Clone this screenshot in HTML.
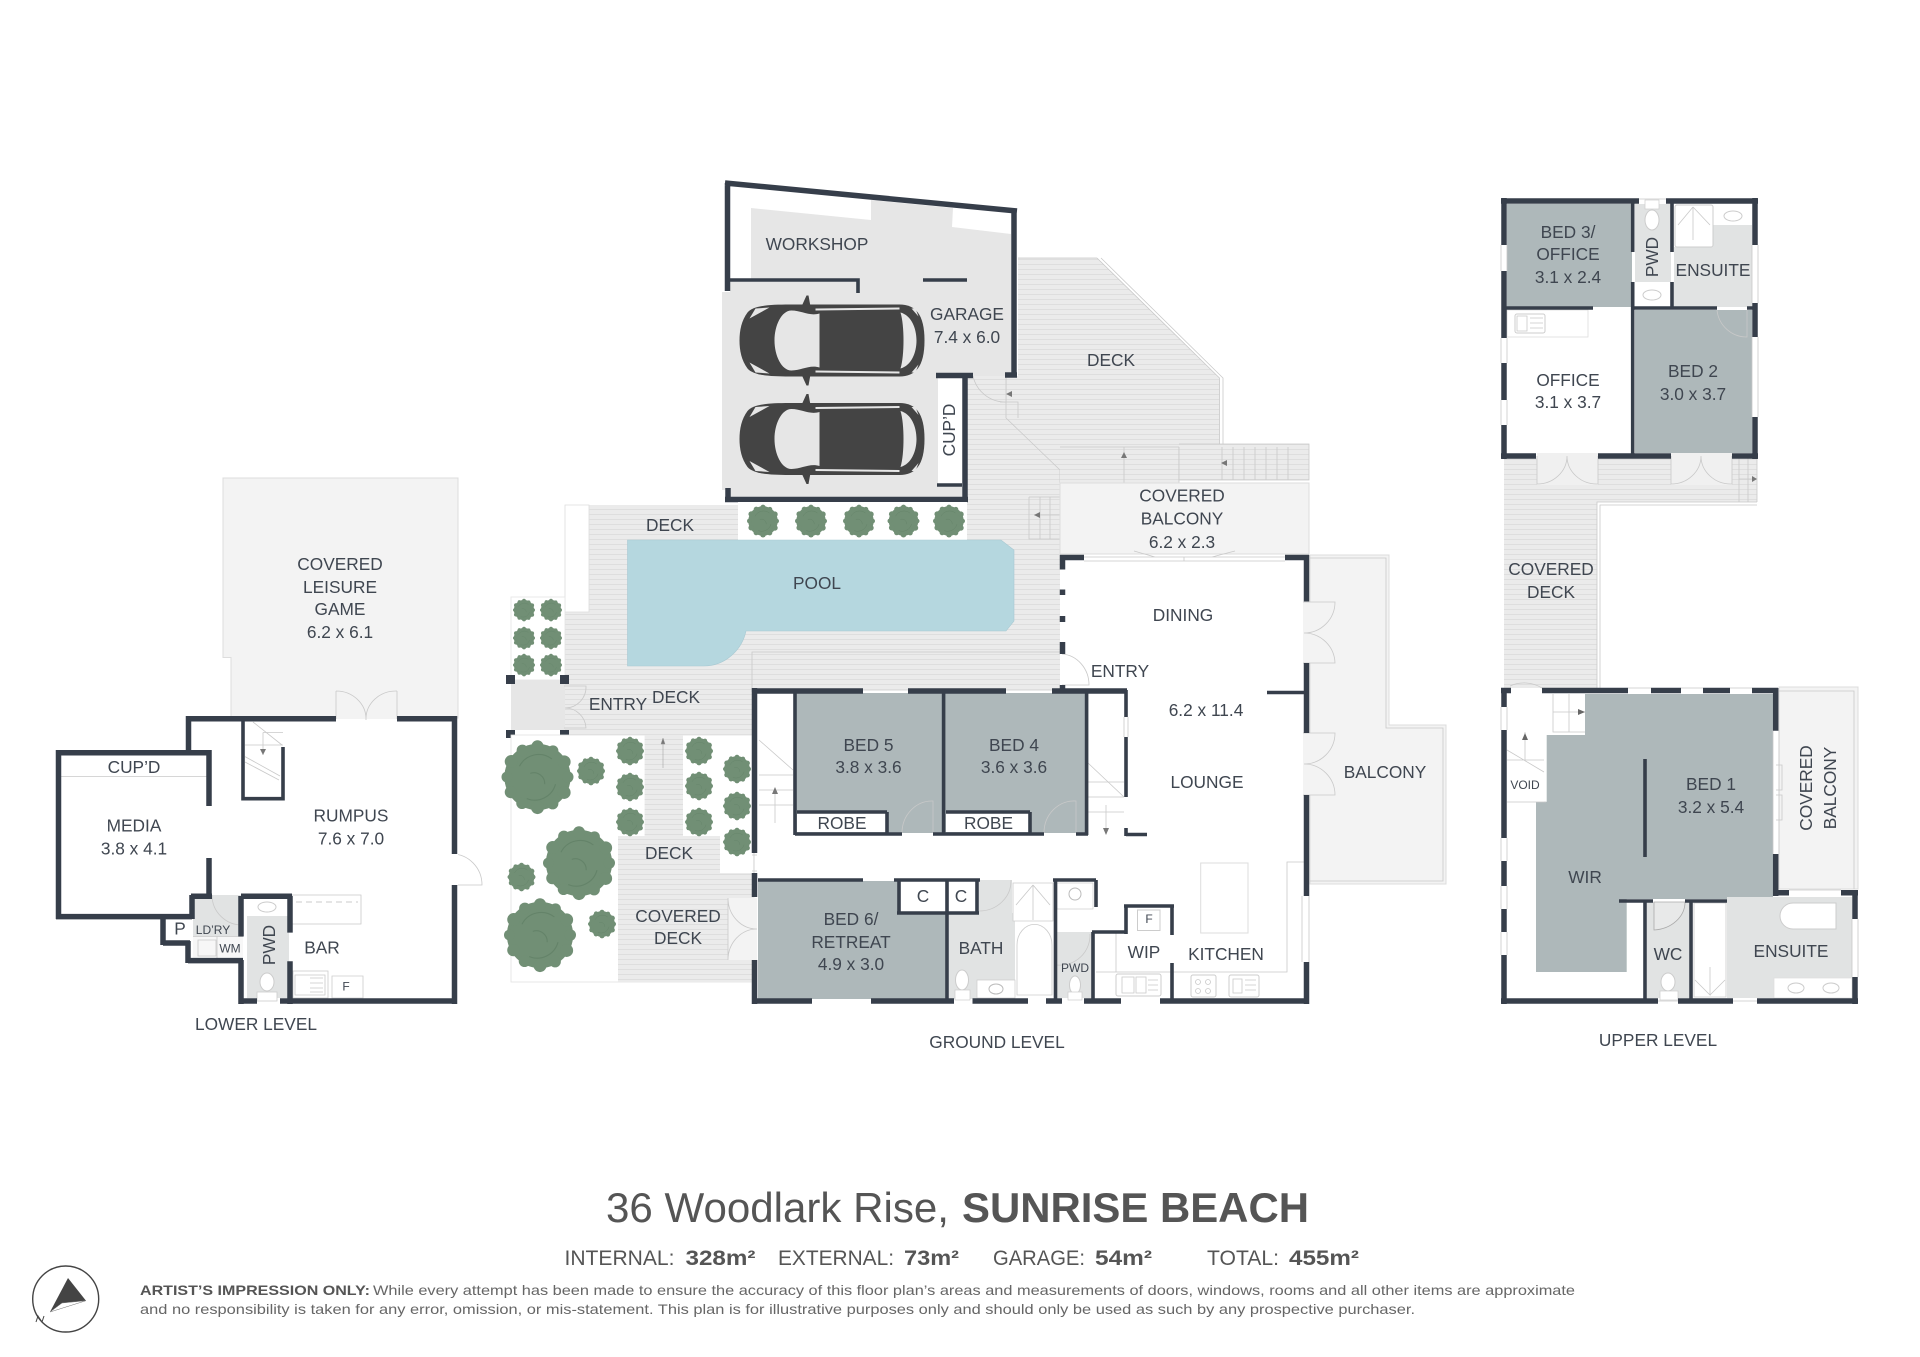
<!DOCTYPE html>
<html><head><meta charset="utf-8"><style>
html,body{margin:0;padding:0;background:#fff}
svg{display:block}
text{font-family:"Liberation Sans",sans-serif;font-size:17.3px;fill:#3f4650;text-anchor:middle}
.s{font-size:12px}.m{font-size:14px}
.w{stroke:#363e4a;stroke-width:5.5;fill:none}
.n{stroke:#363e4a;stroke-width:3.6;fill:none}
.t{stroke:#c9c9c9;stroke-width:.8;fill:none}
.b{fill:#f3f3f3;stroke:#ddd;stroke-width:1}
.g{fill:#e1e3e3}
.h{text-anchor:start;fill:#555}
</style></head><body>
<svg width="1920" height="1357" viewBox="0 0 1920 1357" xmlns="http://www.w3.org/2000/svg">
<defs>
<pattern id="d" width="5" height="5" patternUnits="userSpaceOnUse"><rect width="5" height="5" fill="#ebebeb"/><rect y="4" width="5" height="1" fill="#dedede"/></pattern>
<g id="p"><g fill="#718f75"><circle r="9.2"/><circle cx="8.4" cy="0" r="1.6"/><circle cx="7.4" cy="4.3" r="1.8"/><circle cx="4.2" cy="7.4" r="1.6"/><circle cx="0" cy="8.5" r="1.8"/><circle cx="-4.3" cy="7.3" r="1.6"/><circle cx="-7.4" cy="4.2" r="1.7"/><circle cx="-8.5" cy="0" r="1.5"/><circle cx="-7.3" cy="-4.3" r="1.8"/><circle cx="-4.2" cy="-7.4" r="1.6"/><circle cx="0" cy="-8.5" r="1.7"/><circle cx="4.3" cy="-7.3" r="1.5"/><circle cx="7.4" cy="-4.2" r="1.8"/></g><path d="M-5,-3A6,6 0 0 1 4,-5M5,2A6,6 0 0 1 -3,6M-2,-1A3,3 0 0 1 2,2" fill="none" stroke="#648369" stroke-width=".3"/></g>
<g id="c"><path d="M8,-28C14,-35 30,-36 50,-36L160,-36C176,-36 185,-26 185,0C185,26 176,36 160,36L50,36C30,36 14,35 8,28C2,20 0,10 0,0C0,-10 2,-20 8,-28Z" fill="#444"/><path d="M62,-34L67,-45L69,-45L71,-34ZM62,34L67,45L69,45L71,34Z" fill="#444"/><path d="M80,-27L80,27C70,24 62,30 52,30C42,30 35,15 35,0C35,-15 42,-30 52,-30C62,-30 70,-24 80,-27Z" fill="#e6e6e6"/><path d="M161,-28C172,-25 177,-12 177,0C177,12 172,25 161,28C165,15 165,-15 161,-28Z" fill="#e6e6e6"/><path d="M76,-31L160,-32M76,31L160,32" stroke="#e6e6e6" stroke-width="2" fill="none"/><path d="M10,-22L16,-32L30,-33ZM10,22L16,32L30,33ZM172,-32L179,-24L176,-32ZM172,32L179,24L176,32Z" fill="#e6e6e6"/></g>
</defs>
<rect width="1920" height="1357" fill="#fff"/>

<!-- LOWER LEVEL -->
<path d="M223,478H458V718H231V657.5H223Z" fill="#f3f3f3" stroke="#ddd" stroke-width="1"/>
<rect x="247" y="916" width="42" height="82" class="g"/>
<rect x="193" y="895" width="50" height="41.5" class="g"/>
<rect x="193" y="936.5" width="50" height="22" fill="#f7f7f7"/>
<path d="M212,895A30,30 0 0 0 243,925M193,936.5H243M217,936.5V958M198,940H216V956H198Z" class="t"/>
<path d="M292,895H361V924H292Z" class="t"/><path d="M296,902H358" stroke="#bbb" stroke-dasharray="6 4" stroke-width=".8"/>
<rect x="293" y="971" width="35" height="27" fill="#fff" stroke="#ccc" stroke-width=".8"/><path d="M295,975H325V995H295ZM310,978H323M310,983H323M310,988H323M310,992H323" class="t"/>
<path d="M332,976H363V998H332Z" fill="#fff" stroke="#ccc" stroke-width=".8"/>
<ellipse cx="267" cy="907" rx="9" ry="5" fill="#fff" stroke="#ccc"/>
<ellipse cx="267" cy="982" rx="7" ry="9" fill="#fff" stroke="#ccc"/><rect x="257" y="992" width="20" height="9" fill="#fff" stroke="#ccc" stroke-width=".8"/>
<path d="M56,776.5H211" class="t"/>
<path d="M336,691H397V719H336Z" fill="#f3f3f3"/><path d="M336,691V719M397,691V719M336,691A30,28 0 0 1 366,720M397,691A30,28 0 0 0 366,720" class="t"/>
<path d="M452,854A30,31 0 0 1 482,885H452" class="t" fill="#fff"/>
<rect x="450" y="854" width="8" height="31" fill="#fff"/>
<path d="M253,722L282,745M245,756.6L280,776M245,762L279,780M263,732.5V755M263,732.5H283M245,745H283" class="t"/>
<path d="M263,755L260,749H266Z" fill="#777"/>
<path d="M186,718.7H336M397,718.7H457M454.5,716V854M454.5,885V1004M280,1001H457M241,1001H257M188.5,716V753M56,752.8H211M58.5,750V919M209,750V806M209,858V895M191,896.3H212M192,895V919M56,916.6H192M163,917V945M163,943H190M188,941V963M188,960.6H243M241,896V936.5M241,960V1004M241,896.3H292M290,896V932.6M290,961.3V1004" class="w"/>
<path d="M243,719V798.7H283V747" class="n"/>
<text x="340" y="570">COVERED</text><text x="340" y="593">LEISURE</text><text x="340" y="615">GAME</text><text x="340" y="638">6.2 x 6.1</text>
<text x="351" y="821.6">RUMPUS</text><text x="351" y="844.6">7.6 x 7.0</text>
<text x="134" y="831.6">MEDIA</text><text x="134" y="854.6">3.8 x 4.1</text><text x="134" y="773">CUP’D</text>
<text x="180" y="934.6">P</text><text x="213" y="934" class="s">LD’RY</text><text x="230" y="952.5" class="s">WM</text>
<text transform="translate(275,945) rotate(-90)">PWD</text>
<text x="322" y="953.7">BAR</text><text x="346" y="990.4" class="s">F</text>
<text x="256" y="1030">LOWER LEVEL</text>

<!-- GROUND: decks -->
<path d="M589,505H738V540H967V376H1018V258H1097L1219.5,378V447H1060V692H752V736H565V612H589Z" fill="url(#d)"/>
<path d="M589,505V612H565V505Z" fill="#fff" stroke="#ddd" stroke-width=".8"/>
<path d="M1097,258L1219.5,378V447M1018,258H1097M1101,258L1223,378V445" class="t"/>
<path d="M1006,376V418L1060,470V484M1000,402H1018V418" class="t"/>
<path d="M752,692V652H1062" class="t"/>
<rect x="1060" y="447" width="119" height="36" fill="url(#d)"/><path d="M1060,447H1179V483M1124,447V483" class="t"/>
<rect x="1179" y="444" width="130" height="36" fill="url(#d)"/><path d="M1179,444H1309V480H1179V447M1222,447V480M1233,447V480M1244,447V480M1255,447V480M1266,447V480M1277,447V480M1288,447V480" class="t"/>
<rect x="1029" y="497" width="33" height="42" fill="url(#d)"/><path d="M1029,497H1062M1029,497V539H1062M1040,497V539M1050,497V539M1034,515H1062" class="t"/>
<path d="M1124,452L1121,458H1127ZM1221,463L1227,460V466ZM1034,515L1040,512V518ZM1006,394L1012,391V397Z" fill="#777"/>
<rect x="1060" y="483" width="249" height="71" class="b"/>
<path d="M1310,555H1389V725H1446V884H1310Z" fill="#f3f3f3" stroke="#ddd" stroke-width="1"/>
<path d="M1310,558H1386V728H1443V881H1310" class="t"/>

<!-- garage -->
<path d="M751,208L871,220V200L953,208L952,227L1011,234V376H962V497H727V490H722V292H730V280H751Z" fill="#e6e6e6"/>
<rect x="938" y="376" width="24" height="109" fill="#fff"/>
<use href="#c" transform="translate(739.5,340.5)"/><use href="#c" transform="translate(739.5,439)"/>
<rect x="973" y="376" width="33" height="26" fill="url(#d)"/><path d="M973,376V376A33,33 0 0 0 1006,402V376" class="t"/>
<path d="M725,183L1017,211M727.5,183V291M1014,209V377M1005,375H1017" class="w"/>
<path d="M936,375.5H973M965,374V502M725,499.5H968M728,488V502" class="w"/>
<path d="M728,280H858V293M923,280H967M937,485H962" class="n"/>
<text x="817" y="250">WORKSHOP</text><text x="967" y="320">GARAGE</text><text x="967" y="343">7.4 x 6.0</text>
<text transform="translate(955,430) rotate(-90)">CUP’D</text>

<!-- pool -->
<rect x="738" y="502" width="229" height="38" fill="#fff"/>
<path d="M627.5,540H1001L1014,550V621L1006,631H746C742,650 725,666 704,666H627.5Z" fill="#b5d7df" stroke="#a8c9d2" stroke-width=".6"/>
<use href="#p" transform="translate(763,521) scale(1.6)"/><use href="#p" transform="translate(811,521) scale(1.6)"/><use href="#p" transform="translate(859,521) scale(1.6)"/><use href="#p" transform="translate(903.5,521) scale(1.6)"/><use href="#p" transform="translate(949,521) scale(1.6)"/>
<rect x="511" y="597" width="54" height="83" fill="#fff" stroke="#e4e4e4" stroke-width=".8"/>
<use href="#p" transform="translate(524,610) scale(1.1)"/><use href="#p" transform="translate(551,610) scale(1.1)"/><use href="#p" transform="translate(524,638) scale(1.1)"/><use href="#p" transform="translate(551,638) scale(1.1)"/><use href="#p" transform="translate(524,665) scale(1.1)"/><use href="#p" transform="translate(551,665) scale(1.1)"/>
<rect x="511" y="680" width="54" height="50" fill="#e6e6e6"/>
<path d="M564,686H586A21,21 0 0 1 565,708A21,21 0 0 1 586,728H564" class="t"/>
<path d="M506,675H515V684H506ZM560,675H569V684H560ZM506,730H515V738H506ZM560,730H569V738H560Z" fill="#363e4a"/>

<!-- garden -->
<rect x="511" y="735" width="243" height="247" fill="#fff" stroke="#e2e2e2" stroke-width=".8"/>
<rect x="644.6" y="735" width="38.4" height="101" fill="url(#d)"/><path d="M663,738L661,744H665ZM663,744V768" fill="#777" stroke="#999" stroke-width=".5"/>
<rect x="618" y="836" width="102" height="37" fill="url(#d)"/>
<rect x="618" y="873" width="136" height="109" fill="url(#d)"/>
<path d="M728,898H757V960H728Z" fill="#f3f3f3"/><path d="M728,898V960M728,898A29,31 0 0 0 757,929M728,960A29,31 0 0 1 757,929" class="t"/>
<use href="#p" transform="translate(537.5,777) scale(3.6)"/><use href="#p" transform="translate(579,863) scale(3.6)"/><use href="#p" transform="translate(540,935) scale(3.6)"/>
<use href="#p" transform="translate(591,771) scale(1.4)"/><use href="#p" transform="translate(521.5,877) scale(1.4)"/><use href="#p" transform="translate(602,924) scale(1.4)"/>
<use href="#p" transform="translate(630,751) scale(1.4)"/><use href="#p" transform="translate(630,787) scale(1.4)"/><use href="#p" transform="translate(630,822) scale(1.4)"/>
<use href="#p" transform="translate(699,751) scale(1.4)"/><use href="#p" transform="translate(699,786) scale(1.4)"/><use href="#p" transform="translate(699,822) scale(1.4)"/>
<use href="#p" transform="translate(737,769) scale(1.4)"/><use href="#p" transform="translate(737,806) scale(1.4)"/><use href="#p" transform="translate(737,842) scale(1.4)"/>

<!-- interior fills -->
<rect x="1060" y="557" width="249" height="447" fill="#fff"/>
<rect x="754" y="691" width="380" height="190" fill="#fff"/>
<rect x="795" y="693" width="149" height="140" fill="#aeb8ba"/><rect x="944" y="693" width="143" height="140" fill="#aeb8ba"/>
<rect x="797" y="812" width="90" height="20" fill="#fff"/><rect x="946" y="812" width="84" height="20" fill="#fff"/>
<path d="M902,833V833A30,32 0 0 1 933,801V833M1044,833A30,32 0 0 1 1076,801V833" class="t" stroke="#888"/>
<path d="M759,740L793,770M759,775H793M759,790H793M759,805H793M775,823V790" class="t"/><path d="M775,787L772,794H778Z" fill="#777"/>
<path d="M1088,763L1124,797M1088,782H1124M1088,797H1124M1088,812H1124M1106,805V830" class="t"/><path d="M1106,835L1103,828H1109Z" fill="#777"/>
<path d="M758,881H899V912H947V999H758Z" fill="#aeb8ba"/>
<path d="M949,913H1015V999H949ZM979,880H1012V913H979Z" class="g"/>
<path d="M977,980H1015V998H977Z" fill="#fff" stroke="#ccc" stroke-width=".7"/><ellipse cx="996" cy="989" rx="7" ry="5" fill="none" stroke="#bbb"/>
<ellipse cx="962" cy="980" rx="6.5" ry="10" fill="#fff" stroke="#ccc"/><rect x="955" y="990" width="15" height="10" fill="#fff" stroke="#ccc" stroke-width=".7"/>
<path d="M979,911A32,30 0 0 0 1011,880" class="t" stroke="#aaa"/>
<path d="M1013,883H1053V921H1013Z" fill="#fff" stroke="#ccc" stroke-width=".8"/><path d="M1033,885L1016,905M1033,885L1050,905M1033,885V920" class="t"/>
<path d="M1017,995V945A17,20 0 0 1 1052,945V995Z" fill="#fff" stroke="#ccc" stroke-width=".8"/>
<rect x="1057" y="883" width="36" height="26" fill="#fff" stroke="#ccc" stroke-width=".7"/><ellipse cx="1075" cy="894" rx="6" ry="6" fill="none" stroke="#bbb"/>
<rect x="1057" y="932" width="36" height="66" class="g"/>
<path d="M1057,965A30,30 0 0 0 1090,934" class="t" stroke="#aaa"/>
<ellipse cx="1075" cy="985" rx="5.5" ry="9" fill="#fff" stroke="#ccc"/><rect x="1068" y="992" width="14" height="8" fill="#fff" stroke="#ccc" stroke-width=".7"/>
<path d="M1116,933V972H1287V862H1306M1096,972H1116" class="t"/>
<rect x="1116" y="974" width="45" height="22" rx="2" fill="#fff" stroke="#ccc"/><path d="M1122,977H1134V993H1122ZM1136,977H1146V993H1136ZM1148,980H1158M1148,985H1158M1148,990H1158" class="t"/>
<rect x="1191" y="975" width="25" height="22" rx="2" fill="#fff" stroke="#ccc"/><circle cx="1198" cy="982" r="2.5" class="t"/><circle cx="1208" cy="982" r="2.5" class="t"/><circle cx="1198" cy="991" r="2.5" class="t"/><circle cx="1208" cy="991" r="2.5" class="t"/>
<rect x="1229" y="975" width="30" height="22" rx="2" fill="#fff" stroke="#ccc"/><path d="M1233,979H1242V993H1233ZM1245,980H1256M1245,985H1256M1245,990H1256" class="t"/>
<rect x="1137.5" y="910" width="22.5" height="20.5" fill="#fff" stroke="#ccc"/>
<rect x="1200.7" y="863" width="47.3" height="70" fill="#fff" stroke="#ddd"/>
<path d="M1084,557H1285M1084,561H1285M1134,551L1155,557M1235,551L1212,557M1184,557V561" class="t"/>
<path d="M1062,654H1089V685H1062" fill="#fff"/><path d="M1062,654A29,31 0 0 1 1089,685H1062" class="t"/>
<path d="M1303,602H1335V663H1303Z" fill="#f3f3f3"/><path d="M1303,602H1335A31,31 0 0 1 1304,633A31,31 0 0 1 1335,663H1303" class="t"/>
<path d="M1303,733H1335V795H1303Z" fill="#f3f3f3"/><path d="M1303,733H1335A31,31 0 0 1 1304,764A31,31 0 0 1 1335,795H1303" class="t"/>
<path d="M1302,896V962M1309,896V962M1124,717V737M1128,717V737" class="t"/>
<path d="M754,853V873M752,855H757M752,871H757" class="t"/>

<!-- ground walls -->
<path d="M1060,557.5H1084M1285,557.5H1309M1062.5,555V569.5M1062.5,589.5V595M1062.5,616V622M1062.5,642V654M1062.5,685V690M1306.5,555V601.5M1306.5,663V733M1306.5,795V896M1306.5,962V1004" class="w"/>
<path d="M752,691H863M908,691H1006M1052,691H1127M754.5,688V853M754.5,873V897M754.5,960V1004M752,1001H812M871,1001H954M972.5,1001H1028M1046,1001H1062M1084,1001H1121M1160,1001H1309" class="w"/>
<path d="M1267,692.5H1306M1126,690V717M1126,737V797M1126,828V836M1126,834.5H1147M795,691V835M943.6,691V835M1086.6,691V835M795,834H902M933,834H1044M1076,834H1088M887,812V834M1030,812V834M797,812H887M946,812H1030" class="n"/>
<path d="M758,880H863M894,880H980M899,880V914M897,913H979M947,880V1001M977,880V914M1055.5,880V1001M1053,880H1096M1096,880V907M1126,906V934M1092,932H1127M1093,932V1001M1124,906H1174M1172,906V935M1172,963V1001" class="n"/>
<text x="1111" y="366">DECK</text><text x="670" y="531">DECK</text><text x="817" y="589">POOL</text>
<text x="1182" y="501.5">COVERED</text><text x="1182" y="524.5">BALCONY</text><text x="1182" y="548">6.2 x 2.3</text>
<text x="1183" y="621">DINING</text><text x="1120" y="677">ENTRY</text><text x="618" y="710">ENTRY</text><text x="676" y="703">DECK</text>
<text x="1206" y="716">6.2 x 11.4</text><text x="1207" y="788">LOUNGE</text><text x="1385" y="778">BALCONY</text>
<text x="868.5" y="751">BED 5</text><text x="868.5" y="773">3.8 x 3.6</text><text x="1014" y="751">BED 4</text><text x="1014" y="773">3.6 x 3.6</text>
<text x="842" y="829">ROBE</text><text x="988.5" y="829">ROBE</text>
<text x="669" y="859">DECK</text><text x="678" y="922">COVERED</text><text x="678" y="944">DECK</text>
<text x="851" y="925">BED 6/</text><text x="851" y="948">RETREAT</text><text x="851" y="970">4.9 x 3.0</text>
<text x="923" y="902">C</text><text x="961" y="902">C</text><text x="981" y="954">BATH</text>
<text x="1075" y="972" class="s">PWD</text><text x="1144" y="958">WIP</text><text x="1226" y="960">KITCHEN</text><text x="1149" y="923" class="s">F</text>
<text x="997" y="1048">GROUND LEVEL</text>

<!-- UPPER LEVEL top -->
<path d="M1504,458H1757V502H1597V688H1504Z" fill="url(#d)"/><path d="M1597,688V502H1757" class="t"/><path d="M1600,688V505H1757" class="t"/>
<rect x="1537" y="453" width="61" height="32" fill="#f0f0f0"/><rect x="1671" y="453" width="61" height="32" fill="#f0f0f0"/>
<path d="M1537,456V484A30,28 0 0 0 1567,456A30,28 0 0 0 1598,484V456M1671,456V484A30,28 0 0 0 1701,456A30,28 0 0 0 1732,484V456" class="t" stroke="#999"/>
<path d="M1739,458V502M1748,458V502M1757,458V502M1739,479H1752" class="t" stroke="#aaa"/><path d="M1757,479L1752,476V482Z" fill="#777"/>
<rect x="1507" y="204" width="125" height="103" fill="#aeb8ba"/>
<rect x="1635" y="204" width="36" height="78" class="g"/>
<path d="M1713,225H1752V307H1674V247H1713Z" class="g"/>
<rect x="1635" y="310" width="117" height="143" fill="#aeb8ba"/>
<path d="M1717,310A30,30 0 0 0 1747,337V310" class="t" stroke="#888"/>
<rect x="1675" y="205" width="38" height="42" rx="2" fill="#fff" stroke="#ccc"/><path d="M1693,207L1678,225M1693,207L1710,225M1693,207V240" class="t"/>
<ellipse cx="1733" cy="216" rx="9" ry="5" fill="none" stroke="#ccc"/>
<ellipse cx="1652" cy="295" rx="9" ry="5" fill="none" stroke="#ccc"/>
<ellipse cx="1652" cy="220" rx="7" ry="10" fill="#fff" stroke="#ccc"/><rect x="1645" y="200" width="14" height="9" fill="#fff" stroke="#ccc" stroke-width=".7"/>
<rect x="1507" y="310" width="81" height="27" fill="#fff" stroke="#ddd" stroke-width=".8"/><rect x="1515" y="314" width="30" height="19" rx="2" fill="#fff" stroke="#ccc"/><path d="M1517,316H1527V331H1517ZM1530,318H1543M1530,323H1543M1530,328H1543" class="t"/>
<path d="M1501,245V271M1507,245V271M1501,338V363M1507,338V363M1501,400V425M1507,400V425M1752,245V303M1758,245V303M1752,337V417M1758,337V417M1639,199H1666" class="t"/>
<path d="M1501,201H1639M1666,201H1758M1504,198V245M1504,271V338M1504,363V400M1504,425V459M1755,198V245M1755,303V337M1755,417V459M1501,456H1536M1598,456H1671M1732,456H1758" class="w"/>
<path d="M1504,308H1593M1634,308H1717M1747,308H1755M1632.7,201V252M1632.7,282V456M1672,199V252M1672,282V309" class="n"/>
<text x="1568" y="238">BED 3/</text><text x="1568" y="260">OFFICE</text><text x="1568" y="283">3.1 x 2.4</text>
<text transform="translate(1658,257) rotate(-90)">PWD</text><text x="1713" y="276">ENSUITE</text>
<text x="1568" y="386">OFFICE</text><text x="1568" y="408">3.1 x 3.7</text><text x="1693" y="377">BED 2</text><text x="1693" y="400">3.0 x 3.7</text>
<text x="1551" y="575">COVERED</text><text x="1551" y="598">DECK</text>

<!-- UPPER LEVEL bottom -->
<path d="M1510,686A32,30 0 0 1 1542,688" class="t"/>
<path d="M1779,687H1858V889H1779Z" fill="#f3f3f3" stroke="#ddd" stroke-width="1"/><path d="M1779,691H1854V889" class="t"/>
<path d="M1585,694H1773V899H1626.7V972H1536V801.7H1546.7V735H1585Z" fill="#aeb8ba"/>
<path d="M1647,902H1689V998H1647Z" class="g"/><path d="M1727,897H1852V998H1727Z" class="g"/>
<path d="M1694,903H1726V997H1694Z" fill="#fff" stroke="#ccc" stroke-width=".8"/><path d="M1710,967V995L1695,980M1710,995L1725,980" class="t"/>
<path d="M1793,903H1836V929H1793A13,13 0 0 1 1793,903Z" fill="#fff" stroke="#ccc"/>
<rect x="1774" y="978" width="78" height="20" fill="#fff" stroke="#ddd" stroke-width=".7"/><ellipse cx="1796" cy="988" rx="8" ry="5" fill="none" stroke="#ccc"/><ellipse cx="1831" cy="988" rx="8" ry="5" fill="none" stroke="#ccc"/>
<path d="M1654,930V902H1685A33,28 0 0 1 1654,930Z" fill="#e8e9e9" stroke="#aaa" stroke-width=".8"/>
<ellipse cx="1668" cy="982" rx="7" ry="9" fill="#fff" stroke="#ccc"/><rect x="1660" y="991" width="18" height="9" fill="#fff" stroke="#ccc" stroke-width=".7"/>
<path d="M1553,694H1585V732H1553ZM1507,732H1544V802H1507Z" fill="#fff"/>
<path d="M1553,694V732H1585M1553,712H1585M1569,694V732M1507,760H1544M1507,750L1544,772M1525,732V760M1507,802H1546" class="t"/><path d="M1585,712L1578,709V715ZM1525,733L1522,740H1528Z" fill="#666"/>
<path d="M1773,730V854M1779,730V854M1776,765H1782V790H1776M1776,795H1782V820H1776M1501,707V730M1507,707V730M1501,838V861M1507,838V861M1501,886V909M1507,886V909M1501,932V955M1507,932V955M1628,688H1651M1681,688H1703M1730,688H1752M1789,890H1841M1852,919V977M1858,919V977M1733,1001H1757M1658,1001H1678" class="t"/>
<path d="M1501,690.5H1511M1542,690.5H1628M1651,690.5H1681M1703,690.5H1730M1752,690.5H1778M1504,688V707M1504,730V838M1504,861V886M1504,909V932M1504,955V1004M1501,1001H1658M1678,1001H1733M1757,1001H1858M1775.7,688V730.7M1775.7,854V896M1773,892.7H1789M1841,892.7H1858M1855,890V919M1855,977V1004" class="w"/>
<path d="M1645,759V857M1619,901H1653M1685,901H1727M1645,901V1001M1691,901V1001" class="n"/>
<text x="1711" y="790">BED 1</text><text x="1711" y="813">3.2 x 5.4</text><text x="1585" y="883">WIR</text><text x="1668" y="960">WC</text><text x="1791" y="957">ENSUITE</text>
<text transform="translate(1812,788) rotate(-90)">COVERED</text><text transform="translate(1836,788) rotate(-90)">BALCONY</text>
<text x="1525" y="789" class="s">VOID</text><text x="1658" y="1046">UPPER LEVEL</text>

<!-- title block -->
<text class="h" x="606" y="1222" style="font-size:42px" textLength="343" lengthAdjust="spacingAndGlyphs">36 Woodlark Rise,</text>
<text class="h" x="962" y="1222" style="font-size:42px;font-weight:700" textLength="347" lengthAdjust="spacingAndGlyphs">SUNRISE BEACH</text>
<text class="h" x="564.5" y="1265" style="font-size:21px" textLength="110" lengthAdjust="spacingAndGlyphs">INTERNAL:</text>
<text class="h" x="685.5" y="1265" style="font-size:21px;font-weight:700" textLength="70" lengthAdjust="spacingAndGlyphs">328m²</text>
<text class="h" x="778" y="1265" style="font-size:21px" textLength="116" lengthAdjust="spacingAndGlyphs">EXTERNAL:</text>
<text class="h" x="904" y="1265" style="font-size:21px;font-weight:700" textLength="55" lengthAdjust="spacingAndGlyphs">73m²</text>
<text class="h" x="993" y="1265" style="font-size:21px" textLength="92" lengthAdjust="spacingAndGlyphs">GARAGE:</text>
<text class="h" x="1095" y="1265" style="font-size:21px;font-weight:700" textLength="57" lengthAdjust="spacingAndGlyphs">54m²</text>
<text class="h" x="1207" y="1265" style="font-size:21px" textLength="72" lengthAdjust="spacingAndGlyphs">TOTAL:</text>
<text class="h" x="1289" y="1265" style="font-size:21px;font-weight:700" textLength="70" lengthAdjust="spacingAndGlyphs">455m²</text>
<text class="h" x="140" y="1295" style="font-size:14px;font-weight:700" textLength="230" lengthAdjust="spacingAndGlyphs">ARTIST’S IMPRESSION ONLY:</text>
<text class="h" x="373" y="1295" style="font-size:14px;fill:#666" textLength="1202" lengthAdjust="spacingAndGlyphs">While every attempt has been made to ensure the accuracy of this floor plan’s areas and measurements of doors, windows, rooms and all other items are approximate</text>
<text class="h" x="140" y="1314" style="font-size:14px;fill:#666" textLength="1275" lengthAdjust="spacingAndGlyphs">and no responsibility is taken for any error, omission, or mis-statement. This plan is for illustrative purposes only and should only be used as such by any prospective purchaser.</text>
<circle cx="65.7" cy="1299" r="33" fill="none" stroke="#444" stroke-width="1.4"/>
<path d="M68,1278L86,1300.7L50,1312Z" fill="#444"/><path d="M86,1300.7L50,1312L62,1303Z" fill="#fff" stroke="#777" stroke-width=".5"/>
<path d="M36,1322L38,1316L42,1322L44,1316" fill="none" stroke="#444" stroke-width="1"/>
</svg>
</body></html>
